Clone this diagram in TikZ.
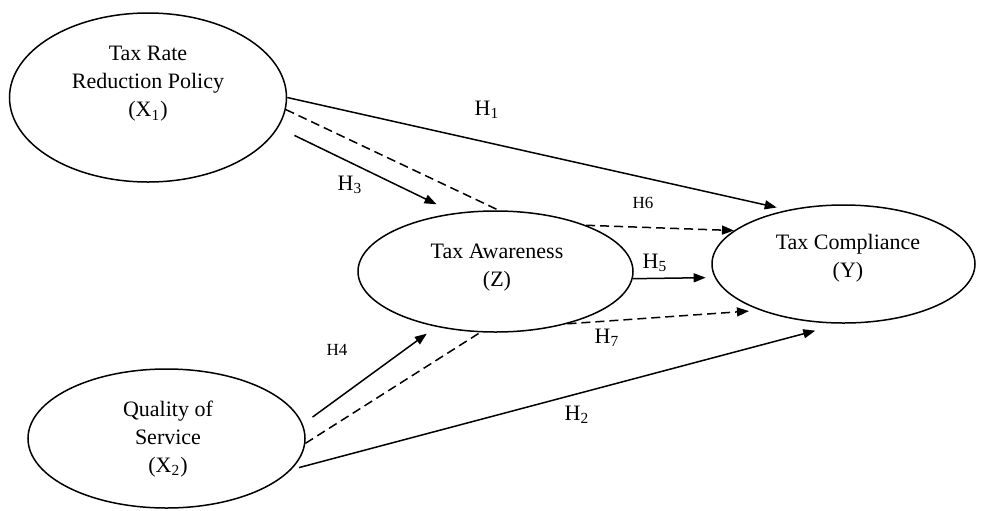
\documentclass[tikz,border=0pt]{standalone}
\usepackage{fontspec}
\setmainfont{Liberation Serif}
\usetikzlibrary{arrows.meta,shapes.geometric}
\tikzset{
  cons/.style={ellipse,draw,line width=0.75pt,inner sep=0pt},
  constxt/.style={align=center,inner sep=0pt,font=\fontsize{11}{14}\selectfont},
  hyp/.style={inner sep=0pt,font=\fontsize{11}{13}\selectfont},
  hypsm/.style={inner sep=0pt,font=\fontsize{8.5}{10}\selectfont},
  harr/.style={-{Triangle[length=6pt,width=4.5pt]},line width=0.75pt},
  hdash/.style={line width=0.75pt,dash pattern=on 4.5pt off 2.5pt},
  hdasharr/.style={hdash,harr},
}
\begin{document}
\begin{tikzpicture}[x=0.5pt,y=-0.5pt]
  \useasboundingbox (0,0) rectangle (982,510);
  % constructs
  \node[cons,minimum width=138.5pt,minimum height=84.5pt] (x1) at (148,97.5) {};
  \node[cons,minimum width=137.5pt,minimum height=60.5pt] (z)  at (495.5,271.5) {};
  \node[cons,minimum width=131.5pt,minimum height=59pt]   (y)  at (843.5,264) {};
  \node[cons,minimum width=138.5pt,minimum height=69.5pt] (x2) at (166.5,438.5) {};
  \node[constxt] (x1t) at (148,84)  {Tax Rate\\Reduction Policy\\(X\textsubscript{1})};
  \node[constxt] (zt)  at (497,268) {Tax Awareness\\(Z)};
  \node[constxt] (yt)  at (848,258) {Tax Compliance\\(Y)};
  \node[constxt] (x2t) at (168,439) {Quality of\\Service\\(X\textsubscript{2})};
  % hypotheses
  \draw[harr,shorten >=5.5pt] (x1.0) -- (y.136);
  \draw[hdash] (x1.-5) -- (z.87);
  \draw[harr,shorten <=9pt,shorten >=10pt] (x1.-13) -- (z.125);
  \draw[hdasharr] (z.27) -- (y.163);
  \draw[harr,shorten >=4.5pt] (z.-3) -- (y.186.5);
  \draw[hdasharr,shorten >=5.5pt] (z.-36) -- (y.-151);
  \draw[harr,shorten <=4pt,shorten >=13.5pt] (x2.-14) -- (y.-92);
  \draw[harr,shorten <=6pt,shorten >=5.8pt] (x2.6) -- (z.223);
  \draw[hdash] (x2.-2) -- (z.-104);
  \node[hyp]   (h1) at (487,110) {H\textsubscript{1}};
  \node[hyp]   (h2) at (577,415) {H\textsubscript{2}};
  \node[hyp]   (h3) at (350,185) {H\textsubscript{3}};
  \node[hypsm] (h4) at (337,350) {H4};
  \node[hyp]   (h5) at (655,263) {H\textsubscript{5}};
  \node[hypsm] (h6) at (643,203) {H6};
  \node[hyp]   (h7) at (607,338) {H\textsubscript{7}};
\end{tikzpicture}
\end{document}
